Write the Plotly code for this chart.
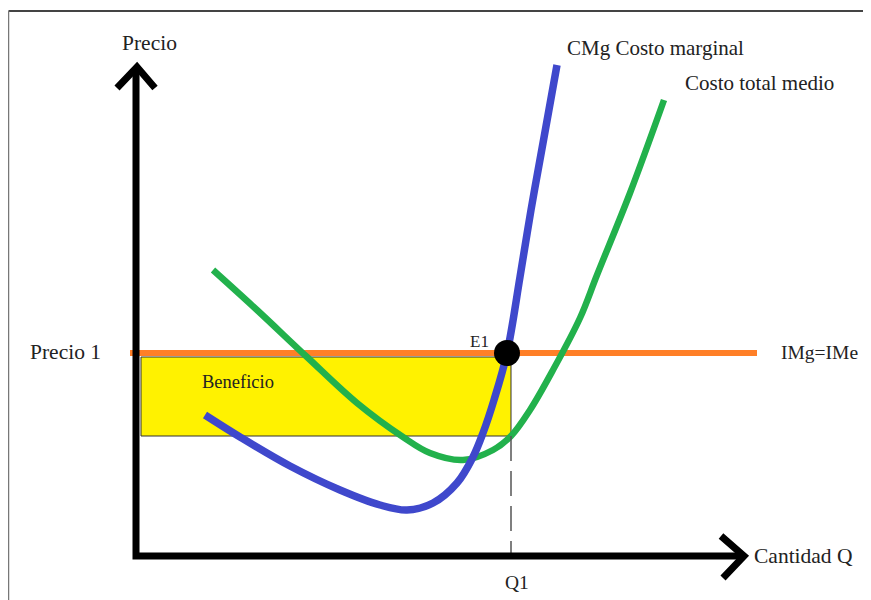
import plotly.graph_objects as go

# ---- data (quantity, price units) ----
cmg_q = [6.9, 10.4, 15.4, 20.4, 24.4, 27.1, 29.7, 32.1, 33.7, 34.7, 35.8, 37.1, 38.4, 39.5, 40.7, 42.1]
cmg_p = [14.1, 11.9, 9.0, 6.6, 5.1, 4.6, 5.3, 7.3, 9.9, 12.3, 15.6, 20.3, 27.9, 34.6, 41.3, 49.1]

ctme_q = [7.7, 12.1, 17.1, 22.1, 26.7, 29.4, 32.7, 35.7, 37.5, 39.4, 41.7, 44.4, 46.1, 49.4, 52.8]
ctme_p = [28.6, 24.6, 19.9, 15.3, 11.9, 10.3, 9.6, 10.6, 12.0, 14.6, 18.6, 23.8, 28.1, 36.3, 45.6]

precio1 = 20.3
img_q = [-0.6, 62.1]
q1 = 37.5
ctme_q1 = 12.0
e1_q = 37.1
benef_q0 = 0.5
benef_top = 19.9

# page body has an 8px margin: figure is 863x592 placed at (8,8)
x_range = [-12.8, 73.5]
y_range = [-4.4, 54.8]

# axis arrow geometry
yaxis_top = 48.8
xaxis_end = 60.8

FONT = "Liberation Serif"
TXT = "#222222"

fig = go.Figure()

# frame
fig.add_shape(type="line", x0=-12.75, x1=x_range[1], y0=54.5, y1=54.5,
              line=dict(color="#444444", width=2), layer="below")
fig.add_shape(type="line", x0=-12.75, x1=-12.75, y0=54.5, y1=y_range[0],
              line=dict(color="#777777", width=1.5), layer="below")

# beneficio rectangle
fig.add_shape(type="rect", x0=benef_q0, x1=q1, y0=ctme_q1, y1=benef_top,
              fillcolor="#FFF200", line=dict(color="#333333", width=1), layer="below")

# IMg = IMe line
fig.add_trace(go.Scatter(x=img_q, y=[precio1, precio1], mode="lines",
                         line=dict(color="#FF7F27", width=6), hoverinfo="skip"))

# CTMe
fig.add_trace(go.Scatter(x=ctme_q, y=ctme_p, mode="lines",
                         line=dict(color="#22B14C", width=6.5, shape="spline", smoothing=1.0),
                         hoverinfo="skip"))
# CMg
fig.add_trace(go.Scatter(x=cmg_q, y=cmg_p, mode="lines",
                         line=dict(color="#3F48CC", width=7.5, shape="spline", smoothing=1.0),
                         hoverinfo="skip"))

# dashed Q1 line
fig.add_trace(go.Scatter(x=[q1, q1], y=[ctme_q1, 0], mode="lines",
                         line=dict(color="#555555", width=1.5, dash="25px,10px"),
                         hoverinfo="skip"))

# axes with arrows
fig.add_trace(go.Scatter(x=[0, 0, xaxis_end], y=[yaxis_top, 0, 0], mode="lines",
                         line=dict(color="black", width=7), hoverinfo="skip"))
fig.add_trace(go.Scatter(x=[-1.9, 0.1, 1.9], y=[46.8, 48.9, 46.8], mode="lines",
                         line=dict(color="black", width=7), hoverinfo="skip"))
fig.add_trace(go.Scatter(x=[58.5, 60.8, 58.7], y=[2.0, 0, -2.2], mode="lines",
                         line=dict(color="black", width=7), hoverinfo="skip"))

# E1 point
fig.add_trace(go.Scatter(x=[e1_q], y=[precio1], mode="markers",
                         marker=dict(color="black", size=26), hoverinfo="skip"))

def label(text, x, y, size=21, xanchor="center"):
    fig.add_annotation(x=x, y=y, text=text, showarrow=False, xanchor=xanchor,
                       yanchor="middle", font=dict(family=FONT, size=size, color=TXT))

label("Precio", 1.35, 51.3, size=21.5)
label("CMg Costo marginal", 42.9, 50.8, xanchor="left")
label("Costo total medio", 54.7, 47.3, xanchor="left")
label("Precio 1", -7.1, 20.4, size=21.5)
label("Beneficio", 6.4, 17.4, size=18.5, xanchor="left")
label("IMg=IMe", 72.4, 20.4, size=19.5, xanchor="right")
label("E1", 34.3, 21.5, size=17)
label("Q1", 38.05, -2.6, size=19.5)
label("Cantidad Q", 61.6, 0.0, size=21.5, xanchor="left")

fig.update_layout(
    width=863, height=592,
    margin=dict(l=0, r=0, t=0, b=0),
    paper_bgcolor="white", plot_bgcolor="white",
    showlegend=False,
    xaxis=dict(range=x_range, visible=False, fixedrange=True),
    yaxis=dict(range=y_range, visible=False, fixedrange=True),
)

fig.write_html("out.html")
